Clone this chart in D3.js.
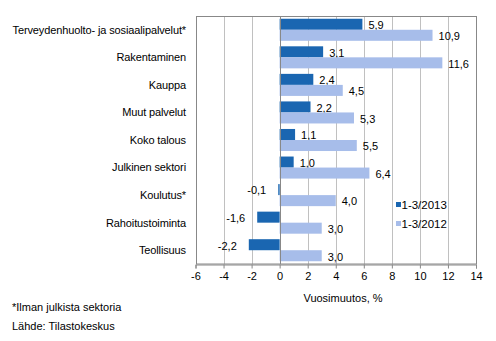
<!DOCTYPE html>
<html>
<head>
<meta charset="utf-8">
<script src="https://cdn.jsdelivr.net/npm/d3@7/dist/d3.min.js"></script>
<style>
  html, body { margin: 0; padding: 0; background: #fff; }
  svg { display: block; }
  text { font-family: "Liberation Sans", Arial, sans-serif; font-size: 11px; fill: #000; }
</style>
</head>
<body>
<script>
// Annual change by industry, %
const categories = [
  "Terveydenhuolto- ja sosiaalipalvelut*",
  "Rakentaminen",
  "Kauppa",
  "Muut palvelut",
  "Koko talous",
  "Julkinen sektori",
  "Koulutus*",
  "Rahoitustoiminta",
  "Teollisuus"
];
const seriesNames = ["1-3/2013", "1-3/2012"];
const values2013 = [5.9, 3.1, 2.4, 2.2, 1.1, 1.0, -0.1, -1.6, -2.2];
const values2012 = [10.9, 11.6, 4.5, 5.3, 5.5, 6.4, 4.0, 3.0, 3.0];
const xTicks = [-6, -4, -2, 0, 2, 4, 6, 8, 10, 12, 14];
const colors = ["#1a66b1", "#a7bdea"];

const W = 496, H = 341;
const svg = d3.select("body").append("svg").attr("width", W).attr("height", H);

const x = d3.scaleLinear().domain([-6, 14]).range([195.5, 476]);
const y = d3.scaleBand().domain(categories).range([16, 264]).paddingInner(0.2).paddingOuter(0.1);
const sub = d3.scaleBand().domain([0, 1]).range([0, y.bandwidth()]);

const fmt = v => d3.format(".1f")(v).replace(".", ",").replace("−", "-");

// gridlines
svg.append("g").selectAll("line").data(xTicks.filter(t => t !== -6 && t !== 14 && t !== 0)).join("line")
  .attr("x1", d => Math.round(x(d)) + 0.5).attr("x2", d => Math.round(x(d)) + 0.5)
  .attr("y1", 16).attr("y2", 264)
  .attr("stroke", "#c0c0c0").attr("stroke-width", 1);

// plot frame
svg.append("rect")
  .attr("x", Math.round(x(-6)) + 0.5).attr("y", 16.5)
  .attr("width", Math.round(x(14)) - Math.round(x(-6))).attr("height", 247.5)
  .attr("fill", "none").attr("stroke", "#888").attr("stroke-width", 1);

// bars
const series = [values2013, values2012];
series.forEach((vals, si) => {
  const g = svg.append("g");
  g.selectAll("rect").data(vals).join("rect")
    .attr("x", d => x(Math.min(0, d)))
    .attr("width", d => Math.abs(x(d) - x(0)))
    .attr("y", (d, i) => y(categories[i]) + sub(si))
    .attr("height", sub.bandwidth())
    .attr("fill", colors[si]);
  g.selectAll("text").data(vals).join("text")
    .attr("x", d => d < 0 ? x(0) - 12 - (x(0) - x(d)) : x(d) + 6)
    .attr("text-anchor", d => d < 0 ? "end" : "start")
    .attr("y", (d, i) => y(categories[i]) + sub(si) + sub.bandwidth() / 2 + 1)
    .attr("dy", "0.35em")
    .text(d => fmt(d));
});

// zero line
svg.append("line")
  .attr("x1", Math.round(x(0)) + 0.5).attr("x2", Math.round(x(0)) + 0.5)
  .attr("y1", 16).attr("y2", 264)
  .attr("stroke", "#888").attr("stroke-width", 1);

// x axis
const xAxis = svg.append("g").attr("transform", "translate(0,264.5)")
  .call(d3.axisBottom(x).tickValues(xTicks).tickSize(4).tickPadding(4).tickFormat(d => String(d)));
xAxis.select(".domain").attr("stroke", "#888");
xAxis.selectAll(".tick line").attr("stroke", "#888");
xAxis.selectAll(".tick text").style("font-size", "11px").attr("fill", "#000");

// category labels
svg.append("g").selectAll("text").data(categories).join("text")
  .attr("x", 186).attr("y", d => y(d) + y.bandwidth() / 2)
  .attr("dy", "0.35em").attr("text-anchor", "end")
  .style("letter-spacing", "-0.12px")
  .text(d => d);

// axis title
svg.append("text").attr("x", 343).attr("y", 302).attr("text-anchor", "middle").text("Vuosimuutos, %");

// legend
const legend = svg.append("g").attr("transform", "translate(396,200)");
seriesNames.forEach((n, i) => {
  const row = legend.append("g").attr("transform", `translate(0,${i * 19})`);
  row.append("rect").attr("x", 0).attr("y", 2).attr("width", 5).attr("height", 5).attr("fill", colors[i]);
  row.append("text").attr("x", 5.5).attr("y", 5).attr("dy", "0.35em").style("font-size", "11.5px").text(n);
});

// footnotes
svg.append("text").attr("x", 12).attr("y", 311).text("*Ilman julkista sektoria");
svg.append("text").attr("x", 12).attr("y", 330).text("Lähde: Tilastokeskus");
</script>
</body>
</html>
